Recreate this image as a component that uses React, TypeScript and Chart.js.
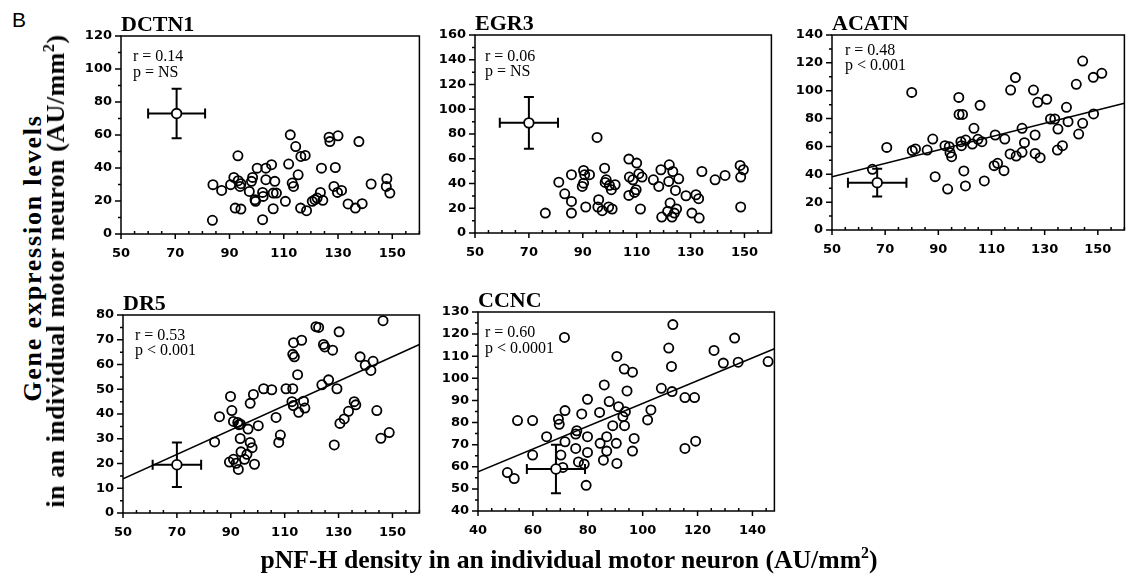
import React, { useEffect, useRef } from "react";
import { Chart, registerables } from "chart.js";

Chart.register(...registerables);

type Pt = [number, number];

// ---------- DATA ----------
const dctn1Points: Pt[] = [
  [83.7, 8.3], [83.9, 29.9], [87.1, 26.4], [90.4, 29.9], [93.1, 47.4], [91.6, 34.3], [93.2, 32.3], [94.2, 30.5],
  [93.9, 28.8], [92.1, 15.7], [94.2, 15.1], [97.3, 25.8], [98.1, 31.9], [98.5, 34.3], [99.4, 20.8], [99.6, 19.8],
  [100.2, 39.9], [102.2, 25.2], [102.4, 22.8], [102.2, 8.7], [103.4, 39.9], [103.4, 32.9], [105.5, 42.0], [106.7, 31.9],
  [106.1, 24.8], [107.3, 24.8], [106.1, 15.3], [110.6, 19.8], [111.8, 42.4], [112.4, 60.1], [113.1, 30.9], [113.6, 28.8],
  [115.3, 35.9], [114.4, 53.0], [116.3, 47.0], [117.9, 47.6], [116.2, 15.7], [118.4, 14.1], [120.5, 19.8], [121.5, 20.8],
  [122.3, 21.8], [123.9, 39.9], [123.5, 25.2], [124.4, 20.4], [126.7, 58.7], [127.0, 56.0], [130.0, 59.5], [128.5, 28.8],
  [129.0, 40.3], [129.8, 25.2], [131.3, 26.4], [133.7, 18.2], [136.4, 15.7], [137.7, 56.0], [138.9, 18.4], [142.2, 30.3],
  [148.0, 33.5], [147.8, 28.8], [149.1, 24.8],
];
const dctn1Mean: Pt = [70.5, 73];
const dctn1Err: Pt = [10.5, 15];
const dctn1Stats = ["r = 0.14", "p = NS"];

const egr3Points: Pt[] = [
  [76.1, 16.1], [81.1, 41.1], [83.3, 31.7], [85.8, 47.1], [85.8, 25.5], [85.8, 16.1], [90.3, 50.6], [90.7, 47.1],
  [90.3, 40.3], [89.8, 37.6], [92.5, 47.1], [91.1, 21.0], [95.3, 77.2], [95.9, 26.9], [95.6, 21.0], [97.2, 18.0],
  [98.1, 52.4], [98.7, 43.0], [98.3, 40.9], [99.9, 38.5], [100.6, 35.0], [102.0, 39.0], [99.6, 21.0], [100.9, 19.4],
  [107.1, 59.7], [110.0, 56.5], [107.3, 45.2], [108.6, 43.0], [109.8, 35.0], [109.2, 32.8], [107.1, 30.4], [110.8, 47.9],
  [112.0, 45.2], [111.4, 19.4], [116.2, 43.0], [118.2, 37.6], [119.0, 51.1], [119.3, 12.9], [122.1, 55.1], [121.9, 41.7],
  [123.4, 49.7], [122.4, 24.2], [121.5, 17.5], [123.1, 12.9], [124.4, 34.4], [125.6, 43.8], [124.8, 19.4], [124.0, 16.1],
  [128.3, 30.1], [130.5, 16.1], [132.0, 30.9], [133.0, 27.7], [133.2, 12.1], [134.2, 49.7], [139.1, 43.0], [142.8, 46.5],
  [148.4, 54.6], [149.6, 51.1], [148.6, 45.2], [148.6, 21.0],
];
const egr3Mean: Pt = [70, 89];
const egr3Err: Pt = [10.8, 21];
const egr3Stats = ["r = 0.06", "p = NS"];

const acatnPoints: Pt[] = [
  [65.2, 43.6], [70.6, 59.3], [80.0, 98.8], [80.2, 57.0], [81.4, 58.2], [85.8, 57.4], [87.9, 65.3], [88.8, 38.3],
  [92.5, 60.5], [94.1, 59.8], [94.4, 55.5], [95.0, 52.6], [93.5, 29.4], [97.7, 95.2], [97.8, 83.0], [99.1, 83.0],
  [98.5, 63.4], [98.7, 60.5], [100.3, 64.6], [99.6, 42.4], [100.2, 31.6], [103.4, 73.0], [102.8, 61.7], [104.9, 65.1],
  [105.7, 89.5], [106.4, 63.4], [107.3, 35.2], [111.4, 68.2], [111.0, 46.2], [112.3, 47.9], [114.7, 42.6], [115.0, 65.3],
  [117.2, 100.5], [119.0, 109.4], [117.0, 54.6], [119.3, 53.1], [121.5, 73.0], [122.4, 62.7], [121.5, 55.8], [125.8, 100.5],
  [127.4, 91.7], [126.4, 68.2], [126.4, 55.0], [128.3, 51.9], [130.8, 93.8], [132.2, 79.7], [133.8, 79.7], [135.0, 72.5],
  [134.8, 57.4], [136.7, 60.5], [138.2, 88.1], [138.8, 77.8], [141.9, 104.6], [144.3, 121.3], [142.8, 68.9], [144.3, 76.6],
  [148.3, 109.6], [151.5, 112.5], [148.4, 83.3],
];
const acatnMean: Pt = [67, 34];
const acatnErr: Pt = [11, 10];
const acatnLine: Pt[] = [[50, 38.3], [160, 91]];
const acatnStats = ["r = 0.48", "p < 0.001"];

const dr5Points: Pt[] = [
  [84.0, 28.7], [85.8, 38.9], [89.9, 47.1], [90.4, 41.4], [91.0, 37.0], [92.6, 36.6], [93.0, 35.7], [93.6, 35.9],
  [89.5, 20.6], [91.0, 21.7], [92.0, 20.1], [92.8, 17.6], [93.5, 30.1], [93.8, 24.7], [95.1, 21.7], [96.0, 23.7],
  [96.4, 33.9], [97.2, 44.3], [98.4, 47.9], [97.2, 28.5], [97.9, 26.4], [98.8, 19.7], [100.2, 35.3], [102.2, 50.2],
  [105.2, 49.8], [106.8, 38.6], [107.8, 28.5], [108.4, 31.5], [110.5, 50.2], [113.0, 50.2], [113.3, 68.8], [113.0, 64.1],
  [113.6, 63.1], [112.7, 45.0], [113.2, 43.4], [114.8, 55.9], [116.3, 69.8], [115.2, 40.7], [117.0, 45.2], [117.5, 42.4],
  [121.6, 75.3], [122.6, 75.0], [123.8, 51.8], [124.4, 68.1], [124.9, 67.1], [126.3, 53.8], [127.8, 65.8], [128.4, 27.5],
  [129.4, 50.2], [130.2, 73.2], [130.5, 36.2], [132.1, 38.0], [133.7, 41.1], [135.8, 45.0], [136.4, 43.7], [138.0, 63.1],
  [139.9, 59.7], [142.0, 57.6], [142.8, 61.3], [144.2, 41.4], [145.7, 30.2], [146.5, 77.7], [148.8, 32.5],
];
const dr5Mean: Pt = [70, 19.5];
const dr5Err: Pt = [9, 9];
const dr5Line: Pt[] = [[50, 13.8], [160, 68.1]];
const dr5Stats = ["r = 0.53", "p < 0.001"];

const ccncPoints: Pt[] = [
  [50.7, 57.4], [53.2, 54.7], [54.4, 80.9], [59.9, 80.9], [59.9, 65.3], [65.0, 73.6], [69.3, 81.5], [69.6, 79.2],
  [71.5, 118.5], [71.7, 85.4], [71.7, 71.3], [70.2, 65.3], [70.9, 59.7], [75.6, 74.8], [76.0, 76.3], [75.6, 68.3],
  [76.6, 62.2], [77.8, 83.9], [78.7, 61.2], [79.4, 51.6], [79.9, 90.5], [79.9, 73.6], [79.9, 66.5], [84.3, 84.6],
  [84.5, 70.6], [86.0, 97.0], [85.7, 63.0], [86.9, 73.6], [86.9, 67.1], [87.8, 89.5], [89.1, 78.6], [90.6, 109.9],
  [90.4, 70.6], [90.6, 61.5], [91.2, 87.2], [92.8, 82.7], [93.7, 84.9], [93.4, 78.6], [93.3, 104.2], [94.3, 94.3],
  [96.3, 102.8], [96.9, 72.8], [96.3, 67.1], [101.8, 81.2], [103.0, 85.7], [106.8, 95.5], [109.5, 113.7], [111.0, 124.3],
  [110.5, 105.4], [110.7, 94.0], [115.4, 91.3], [118.9, 91.3], [115.4, 68.3], [119.3, 71.6], [126.0, 112.6], [129.4, 106.9],
  [133.5, 118.2], [134.8, 107.3], [145.7, 107.6],
];
const ccncMean: Pt = [68.4, 59];
const ccncErr: Pt = [10.6, 11];
const ccncLine: Pt[] = [[40, 57.7], [148, 113.4]];
const ccncStats = ["r = 0.60", "p < 0.0001"];

const xTicksA = [50, 70, 90, 110, 130, 150];
const xTicksB = [40, 60, 80, 100, 120, 140];
const yTicks120 = [0, 20, 40, 60, 80, 100, 120];
const yTicks160 = [0, 20, 40, 60, 80, 100, 120, 140, 160];
const yTicks140 = [0, 20, 40, 60, 80, 100, 120, 140];
const yTicks80 = [0, 10, 20, 30, 40, 50, 60, 70, 80];
const yTicks130 = [40, 50, 60, 70, 80, 90, 100, 110, 120, 130];

// ---------- LAYOUT / STYLE ----------
interface Spec {
  title: string;
  stats: string[];
  points: Pt[];
  mean: Pt;
  err: Pt;
  line: Pt[] | null;
  xr: [number, number];
  yr: [number, number];
  xTicks: number[];
  yTicks: number[];
  xMinor: number;
  yMinor: number;
  box: { l: number; t: number; r: number; b: number };
  st: { dx: number; y1: number; y2: number };
}

const specs: Spec[] = [
  { title: "DCTN1", stats: dctn1Stats, points: dctn1Points, mean: dctn1Mean, err: dctn1Err, line: null,
    xr: [50, 160], yr: [0, 120], xTicks: xTicksA, yTicks: yTicks120, xMinor: 5, yMinor: 10,
    box: { l: 121, t: 36, r: 420, b: 234 }, st: { dx: 12, y1: 25, y2: 41 } },
  { title: "EGR3", stats: egr3Stats, points: egr3Points, mean: egr3Mean, err: egr3Err, line: null,
    xr: [50, 160], yr: [0, 160], xTicks: xTicksA, yTicks: yTicks160, xMinor: 5, yMinor: 10,
    box: { l: 475, t: 35, r: 772, b: 233 }, st: { dx: 10, y1: 26, y2: 41 } },
  { title: "ACATN", stats: acatnStats, points: acatnPoints, mean: acatnMean, err: acatnErr, line: acatnLine,
    xr: [50, 160], yr: [0, 140], xTicks: xTicksA, yTicks: yTicks140, xMinor: 5, yMinor: 10,
    box: { l: 832, t: 35, r: 1125, b: 230 }, st: { dx: 13, y1: 20, y2: 35 } },
  { title: "DR5", stats: dr5Stats, points: dr5Points, mean: dr5Mean, err: dr5Err, line: dr5Line,
    xr: [50, 160], yr: [0, 80], xTicks: xTicksA, yTicks: yTicks80, xMinor: 5, yMinor: 5,
    box: { l: 123, t: 315, r: 420, b: 513 }, st: { dx: 12, y1: 25, y2: 40 } },
  { title: "CCNC", stats: ccncStats, points: ccncPoints, mean: ccncMean, err: ccncErr, line: ccncLine,
    xr: [40, 148], yr: [40, 130], xTicks: xTicksB, yTicks: yTicks130, xMinor: 5, yMinor: 5,
    box: { l: 478, t: 312, r: 775, b: 511 }, st: { dx: 7, y1: 25, y2: 41 } },
];

const PAD_L = 52;
const PAD_T = 42;
const PAD_B = 32;
const PAD_R = 6;
const tickFont = { family: "'DejaVu Sans'", weight: "bold" as const, size: 13 };

function Panel({ spec }: { spec: Spec }) {
  const ref = useRef<HTMLCanvasElement | null>(null);
  const W = spec.box.r - spec.box.l + PAD_L + PAD_R;
  const H = spec.box.b - spec.box.t + PAD_T + PAD_B;

  useEffect(() => {
    const canvas = ref.current;
    if (!canvas) return;
    const decor = {
      id: "decor",
      beforeDatasetsDraw(chart: any) {
        const { ctx, scales } = chart;
        const x = scales.x;
        const y = scales.y;
        const [mx, my] = spec.mean;
        const [ex, ey] = spec.err;
        const cx = x.getPixelForValue(mx);
        const cy = y.getPixelForValue(my);
        const x0 = x.getPixelForValue(mx - ex);
        const x1 = x.getPixelForValue(mx + ex);
        const y0 = y.getPixelForValue(my - ey);
        const y1 = y.getPixelForValue(my + ey);
        ctx.save();
        ctx.strokeStyle = "#000";
        ctx.lineWidth = 2;
        ctx.beginPath();
        ctx.moveTo(x0, cy); ctx.lineTo(x1, cy);
        ctx.moveTo(cx, y0); ctx.lineTo(cx, y1);
        ctx.moveTo(x0, cy - 5); ctx.lineTo(x0, cy + 5);
        ctx.moveTo(x1, cy - 5); ctx.lineTo(x1, cy + 5);
        ctx.moveTo(cx - 5, y0); ctx.lineTo(cx + 5, y0);
        ctx.moveTo(cx - 5, y1); ctx.lineTo(cx + 5, y1);
        ctx.stroke();
        ctx.restore();
      },
      afterDraw(chart: any) {
        const { ctx, chartArea: a, scales } = chart;
        const x = scales.x;
        const y = scales.y;
        ctx.save();
        ctx.strokeStyle = "#000";
        ctx.lineWidth = 1.5;
        ctx.strokeRect(a.left, a.top, a.right - a.left, a.bottom - a.top);
        ctx.beginPath();
        for (const v of spec.xTicks) {
          const p = x.getPixelForValue(v);
          ctx.moveTo(p, a.bottom); ctx.lineTo(p, a.bottom + 5);
        }
        for (let v = spec.xr[0]; v <= spec.xr[1]; v += spec.xMinor) {
          if (spec.xTicks.includes(v)) continue;
          const p = x.getPixelForValue(v);
          ctx.moveTo(p, a.bottom); ctx.lineTo(p, a.bottom - 3);
        }
        for (const v of spec.yTicks) {
          const p = y.getPixelForValue(v);
          ctx.moveTo(a.left - 6, p); ctx.lineTo(a.left, p);
        }
        for (let v = spec.yr[0]; v <= spec.yr[1]; v += spec.yMinor) {
          if (spec.yTicks.includes(v)) continue;
          const p = y.getPixelForValue(v);
          ctx.moveTo(a.left - 3, p); ctx.lineTo(a.left, p);
        }
        ctx.stroke();
        ctx.fillStyle = "#000";
        ctx.textAlign = "left";
        ctx.textBaseline = "alphabetic";
        ctx.font = "bold 22px 'Liberation Serif'";
        ctx.fillText(spec.title, a.left, a.top - 5);
        ctx.font = "16px 'Liberation Serif'";
        ctx.fillText(spec.stats[0], a.left + spec.st.dx, a.top + spec.st.y1);
        ctx.fillText(spec.stats[1], a.left + spec.st.dx, a.top + spec.st.y2);
        ctx.restore();
      },
    };

    const datasets: any[] = [
      {
        data: spec.points.map(([px, py]) => ({ x: px, y: py })),
        pointRadius: 4.6,
        pointBorderWidth: 1.8,
        pointBorderColor: "#000",
        pointBackgroundColor: "rgba(0,0,0,0)",
        order: 2,
      },
      {
        data: [{ x: spec.mean[0], y: spec.mean[1] }],
        pointRadius: 4.8,
        pointBorderWidth: 1.8,
        pointBorderColor: "#000",
        pointBackgroundColor: "#fff",
        order: 0,
      },
    ];
    if (spec.line) {
      datasets.push({
        type: "line",
        data: spec.line.map(([px, py]) => ({ x: px, y: py })),
        borderColor: "#000",
        borderWidth: 1.5,
        pointRadius: 0,
        fill: false,
        order: 3,
      });
    }

    const chart = new Chart(canvas, {
      type: "scatter",
      data: { datasets },
      options: {
        responsive: false,
        animation: false,
        devicePixelRatio: 1,
        layout: { padding: { top: PAD_T, right: PAD_R, left: 0, bottom: 0 } },
        plugins: { legend: { display: false }, tooltip: { enabled: false }, title: { display: false } },
        scales: {
          x: {
            type: "linear",
            min: spec.xr[0],
            max: spec.xr[1],
            afterFit: (s: any) => { s.height = PAD_B; },
            afterBuildTicks: (s: any) => { s.ticks = spec.xTicks.map((v) => ({ value: v })); },
            grid: { display: false, drawTicks: false },
            border: { display: false },
            ticks: { font: tickFont, color: "#000", padding: 12, maxRotation: 0, autoSkip: false },
          },
          y: {
            type: "linear",
            min: spec.yr[0],
            max: spec.yr[1],
            afterFit: (s: any) => { s.width = PAD_L; },
            afterBuildTicks: (s: any) => { s.ticks = spec.yTicks.map((v) => ({ value: v })); },
            grid: { display: false, drawTicks: false },
            border: { display: false },
            ticks: { font: tickFont, color: "#000", padding: 9, autoSkip: false },
          },
        },
      },
      plugins: [decor],
    } as any);
    return () => chart.destroy();
  }, [spec]);

  return (
    <canvas
      ref={ref}
      width={W}
      height={H}
      style={{ position: "absolute", left: spec.box.l - PAD_L, top: spec.box.t - PAD_T, width: W, height: H }}
    />
  );
}

const titleFont = "'Liberation Serif', serif";
const supStyle = { fontSize: "0.62em", verticalAlign: "0.6em", lineHeight: 0 };

export default function App() {
  return (
    <div style={{ position: "absolute", left: 0, top: 0, width: 1127, height: 577, overflow: "hidden", background: "#fff" }}>
      {specs.map((s) => (
        <Panel key={s.title} spec={s} />
      ))}
      <div style={{ position: "absolute", left: 12, top: 9, fontFamily: "'Liberation Sans', sans-serif", fontSize: 21, lineHeight: "21px" }}>B</div>
      <div
        style={{
          position: "absolute", left: 33, top: 258, transform: "translate(-50%, -50%) rotate(-90deg)",
          whiteSpace: "nowrap", fontFamily: titleFont, fontWeight: "bold", fontSize: 26, lineHeight: "26px",
          letterSpacing: "1.8px",
        }}
      >
        Gene expression levels
      </div>
      <div
        style={{
          position: "absolute", left: 56, top: 271, transform: "translate(-50%, -50%) rotate(-90deg)",
          whiteSpace: "nowrap", fontFamily: titleFont, fontWeight: "bold", fontSize: 26, lineHeight: "26px",
          letterSpacing: "0.5px",
        }}
      >
        in an individual motor neuron (AU/mm<sup style={supStyle}>2</sup>)
      </div>
      <div
        style={{
          position: "absolute", left: 0, width: 1138, top: 547, textAlign: "center",
          whiteSpace: "nowrap", fontFamily: titleFont, fontWeight: "bold", fontSize: 25.7, lineHeight: "25px",
        }}
      >
        pNF-H density in an individual motor neuron (AU/mm<sup style={supStyle}>2</sup>)
      </div>
    </div>
  );
}
